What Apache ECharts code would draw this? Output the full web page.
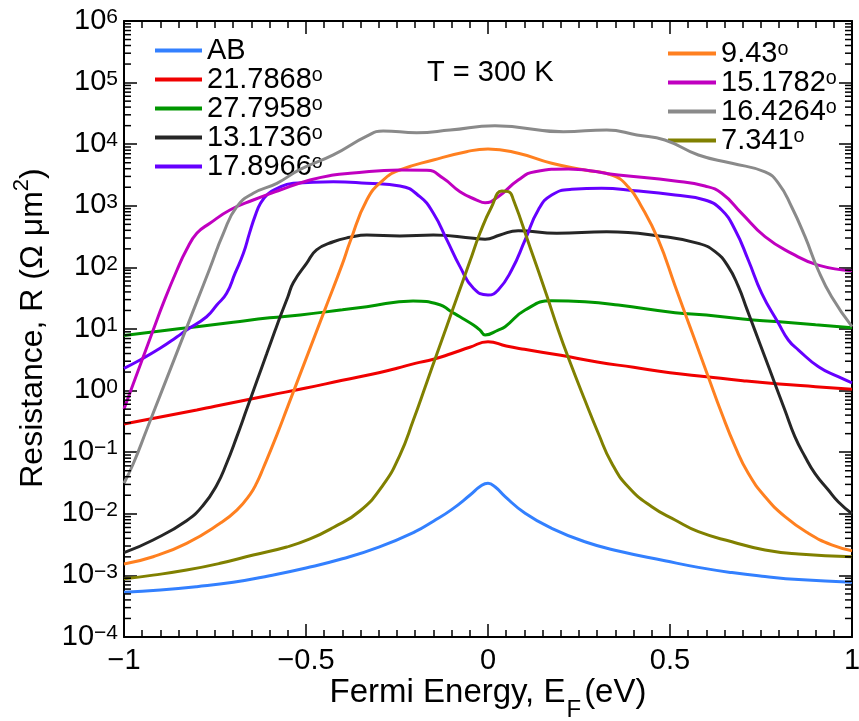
<!DOCTYPE html>
<html>
<head>
<meta charset="utf-8">
<script src="https://cdn.jsdelivr.net/npm/echarts@6/dist/echarts.min.js"></script>
<style>
  html, body { margin: 0; padding: 0; background: #fff; }
  #chart { width: 859px; height: 721px; }
</style>
</head>
<body>
<div id="chart"></div>
<script>
// Resistance vs Fermi energy for several twist angles, T = 300 K
// Each series: [Fermi energy (eV), resistance (Ω µm²)]
const serAB = [[-1,5.32e-4],[-0.9,5.79e-4],[-0.8,6.56e-4],[-0.7,7.73e-4],[-0.6,9.9e-4],[-0.5,1.32e-3],[-0.4,1.86e-3],[-0.3,2.88e-3],[-0.2,5.13e-3],[-0.15,7.59e-3],[-0.1,1.17e-2],[-0.05,2.0e-2],[-0.02,2.82e-2],[0,3.13e-2],[0.02,2.72e-2],[0.047,1.9e-2],[0.102,1.02e-2],[0.175,5.82e-3],[0.266,3.52e-3],[0.358,2.49e-3],[0.486,1.73e-3],[0.578,1.35e-3],[0.67,1.11e-3],[0.761,9.6e-4],[0.853,8.57e-4],[1,7.73e-4]];
const ser21 = [[-1,0.287],[-0.9,0.372],[-0.8,0.484],[-0.75,0.558],[-0.6,0.84],[-0.5,1.10],[-0.4,1.47],[-0.3,1.95],[-0.25,2.30],[-0.2,2.77],[-0.15,3.22],[-0.1,4.0],[-0.05,5.05],[0,6.22],[0.05,5.30],[0.1,4.68],[0.2,3.74],[0.3,2.91],[0.4,2.39],[0.5,1.95],[0.6,1.68],[0.7,1.45],[0.8,1.28],[0.9,1.16],[1,1.05]];
const ser27 = [[-1,7.84],[-0.9,9.29],[-0.8,10.9],[-0.7,12.9],[-0.6,15.2],[-0.516,16.9],[-0.4,20.5],[-0.333,23.0],[-0.206,28.5],[-0.132,24.8],[-0.104,19.6],[-0.077,15.8],[-0.04,11.6],[-0.022,9.6],[-0.008,8.0],[0.028,9.6],[0.047,10.9],[0.102,20.3],[0.175,28.8],[0.266,27.7],[0.358,24.5],[0.514,18.4],[0.6,16.9],[0.7,14.5],[0.8,13.1],[0.9,11.7],[1,10.5]];
const ser13 = [[-1,2.34e-3],[-0.92,3.76e-3],[-0.828,7.73e-3],[-0.782,1.39e-2],[-0.745,2.94e-2],[-0.718,6.61e-2],[-0.69,0.179],[-0.663,0.496],[-0.635,1.43],[-0.608,3.95],[-0.585,9.42],[-0.571,15.8],[-0.55,33.1],[-0.535,56.2],[-0.498,117],[-0.471,192],[-0.425,261],[-0.379,308],[-0.333,336],[-0.242,324],[-0.15,336],[-0.04,297],[-0.008,286],[0.033,336],[0.083,394],[0.189,358],[0.326,380],[0.486,315],[0.578,246],[0.624,180],[0.66,103],[0.688,48.6],[0.711,21.2],[0.734,9.23],[0.761,3.48],[0.789,1.26],[0.816,0.475],[0.843,0.179],[0.871,8.45e-2],[0.898,4.54e-2],[0.935,2.43e-2],[0.962,1.57e-2],[1,1.0e-2]];
const ser17 = [[-1,2.30],[-0.956,3.14],[-0.901,4.86],[-0.855,7.41],[-0.828,9.63],[-0.773,15.8],[-0.745,24.5],[-0.718,38.0],[-0.695,80],[-0.672,169],[-0.655,363],[-0.64,680],[-0.625,1100],[-0.605,1550],[-0.585,1850],[-0.535,2320],[-0.425,2460],[-0.333,2320],[-0.242,2100],[-0.187,1405],[-0.15,755],[-0.113,279],[-0.077,103],[-0.04,45.8],[0,35.6],[0.028,43.0],[0.065,90.7],[0.102,279],[0.138,855],[0.175,1496],[0.23,1853],[0.312,1923],[0.404,1758],[0.514,1496],[0.596,1242],[0.642,855],[0.679,405],[0.715,132],[0.752,38.0],[0.798,12.4],[0.825,6.63],[0.853,4.56],[0.908,2.44],[0.962,1.68],[1,1.34]];
const ser9 = [[-1,1.53e-3],[-0.92,2.01e-3],[-0.828,3.32e-3],[-0.736,7.02e-3],[-0.69,1.15e-2],[-0.654,2.05e-2],[-0.635,3.2e-2],[-0.617,5.6e-2],[-0.58,0.191],[-0.55,0.555],[-0.5,3.27],[-0.45,19.3],[-0.4,114],[-0.379,260],[-0.333,1242],[-0.288,2620],[-0.242,3810],[-0.15,5540],[-0.059,7560],[0,8360],[0.083,7120],[0.175,4900],[0.266,3810],[0.34,3162],[0.385,2040],[0.422,966],[0.468,279],[0.514,50.1],[0.546,15.1],[0.564,7.76],[0.605,1.68],[0.642,0.428],[0.679,0.123],[0.715,4.54e-2],[0.761,1.90e-2],[0.816,8.97e-3],[0.88,4.82e-3],[0.944,3.12e-3],[1,2.52e-3]];
const ser15 = [[-1,0.503],[-0.974,1.32],[-0.947,3.55],[-0.92,9.55],[-0.892,26.3],[-0.855,89],[-0.828,195],[-0.8,358],[-0.764,520],[-0.709,855],[-0.645,1242],[-0.571,1805],[-0.489,2620],[-0.425,3162],[-0.379,3370],[-0.242,3810],[-0.168,3770],[-0.123,2795],[-0.077,1694],[-0.031,1242],[-0.008,1122],[0.028,1405],[0.083,2620],[0.129,3580],[0.221,3960],[0.358,3162],[0.514,2530],[0.596,2094],[0.642,1596],[0.697,755],[0.761,315],[0.834,169],[0.907,109],[1,88.3]];
const ser16 = [[-1,3.13e-2],[-0.974,6.61e-2],[-0.938,0.229],[-0.901,0.83],[-0.865,2.90],[-0.837,7.67],[-0.801,26.8],[-0.764,97],[-0.727,358],[-0.69,966],[-0.645,1596],[-0.58,2317],[-0.516,3900],[-0.425,6700],[-0.333,13500],[-0.288,16400],[-0.196,15400],[-0.104,17000],[0.019,19960],[0.207,15950],[0.326,17000],[0.409,14100],[0.486,11700],[0.578,6680],[0.67,4900],[0.761,3540],[0.798,2317],[0.834,966],[0.871,315],[0.907,90.7],[0.944,33.4],[1,10.9]];
const ser7 = [[-1,8.83e-4],[-0.92,1.01e-3],[-0.828,1.22e-3],[-0.736,1.57e-3],[-0.645,2.14e-3],[-0.553,2.89e-3],[-0.489,3.90e-3],[-0.425,6.0e-3],[-0.352,1.11e-2],[-0.288,2.94e-2],[-0.242,9.0e-2],[-0.205,0.333],[-0.168,1.37],[-0.141,3.85],[-0.113,11.2],[-0.086,31.6],[-0.049,129],[-0.022,361],[0.01,966],[0.038,1738],[0.056,1700],[0.07,1242],[0.115,217],[0.161,35.6],[0.193,9.63],[0.221,3.38],[0.266,0.703],[0.303,0.203],[0.34,6.61e-2],[0.385,2.75e-2],[0.45,1.30e-2],[0.514,7.93e-3],[0.578,5.12e-3],[0.67,3.52e-3],[0.761,2.58e-3],[0.853,2.22e-3],[1,2.01e-3]];

const seriesNames = ['AB', '21.7868\u1D52', '27.7958\u1D52', '13.1736\u1D52', '17.8966\u1D52', '9.43\u1D52', '15.1782\u1D52', '16.4264\u1D52', '7.341\u1D52'];
const seriesColors = ['#3380ff', '#f00000', '#009600', '#262626', '#6600ff', '#ff8020', '#c000c0', '#8a8a8a', '#808000'];
const seriesData = [serAB, ser21, ser27, ser13, ser17, ser9, ser15, ser16, ser7];
const legendLeft = seriesNames.slice(0, 5);
const legendRight = seriesNames.slice(5);

const xTickValues = [-1, -0.5, 0, 0.5, 1];
const xTickLabels = ['\u22121', '\u22120.5', '0', '0.5', '1'];
const yTickExponents = ['\u22124', '\u22123', '\u22122', '\u22121', '0', '1', '2', '3', '4', '5', '6'];

// minor tick positions of the log axis (2..9 per decade)
const yMinorTicks = [];
for (let k = -4; k < 6; k++) {
  for (let m = 2; m <= 9; m++) yMinorTicks.push(m * Math.pow(10, k));
}

const FONT = '"Liberation Sans", Arial, Helvetica, sans-serif';
const chart = echarts.init(document.getElementById('chart'), null, { renderer: 'canvas' });

const lineSeries = seriesNames.map((name, i) => ({
  name: name,
  type: 'line',
  data: seriesData[i],
  xAxisIndex: 0,
  yAxisIndex: 0,
  showSymbol: false,
  symbol: 'none',
  smooth: 0.5,
  color: seriesColors[i],
  lineStyle: { width: 3, color: seriesColors[i] },
  z: 3 + i
}));

const minorTickSeries = {
  type: 'custom',
  silent: true,
  xAxisIndex: 0,
  yAxisIndex: 0,
  data: yMinorTicks.map(v => [0, v]),
  encode: { x: 0, y: 1 },
  z: 20,
  renderItem: function (params, api) {
    const v = api.value(1);
    const p = api.coord([-1, v]);
    const q = api.coord([1, v]);
    const st = { stroke: '#000', lineWidth: 1.5 };
    return {
      type: 'group',
      children: [
        { type: 'line', shape: { x1: p[0], y1: p[1], x2: p[0] + 7, y2: p[1] }, style: st },
        { type: 'line', shape: { x1: q[0] - 7, y1: q[1], x2: q[0], y2: q[1] }, style: st }
      ]
    };
  }
};

const legendText = { color: '#000', fontFamily: FONT, fontSize: 29, lineHeight: 28 };

const axisLineStyle = { show: true, onZero: false, lineStyle: { color: '#000', width: 2 } };
const xTick = { show: true, inside: true, length: 13, lineStyle: { color: '#000', width: 1.5 } };
const xMinor = { show: true, splitNumber: 10, length: 7, lineStyle: { color: '#000', width: 1.5 } };
const yTick = { show: true, inside: true, length: 13, lineStyle: { color: '#000', width: 1.5 } };

const option = {
  animation: false,
  backgroundColor: '#fff',
  grid: { left: 124, right: 7, top: 21, bottom: 84, containLabel: false, outerBoundsMode: 'none' },
  xAxis: [
    {
      type: 'value', position: 'bottom', min: -1, max: 1, interval: 0.5,
      axisLine: axisLineStyle, axisTick: xTick, minorTick: xMinor,
      splitLine: { show: false }, minorSplitLine: { show: false },
      axisLabel: {
        margin: 9, color: '#000', fontSize: 29, fontFamily: FONT,
        formatter: v => {
          const i = xTickValues.findIndex(t => Math.abs(t - v) < 1e-9);
          return i >= 0 ? xTickLabels[i] : '';
        }
      },
      name: '{t|Fermi Energy, E}{sub|F}{t|(eV)}',
      nameLocation: 'middle',
      nameGap: 39,
      nameMoveOverlap: false,
      nameTextStyle: {
        color: '#000', fontFamily: FONT,
        rich: {
          t: { fontSize: 33, lineHeight: 28, verticalAlign: 'top', fontFamily: FONT, color: '#000' },
          sub: { fontSize: 24, lineHeight: 20, padding: [22, 3, 0, 1], verticalAlign: 'top', fontFamily: FONT, color: '#000' }
        }
      }
    },
    {
      type: 'value', position: 'top', min: -1, max: 1, interval: 0.5,
      axisLine: axisLineStyle, axisTick: xTick, minorTick: xMinor,
      splitLine: { show: false }, axisLabel: { show: false }
    }
  ],
  yAxis: [
    {
      type: 'log', logBase: 10, position: 'left', min: 1e-4, max: 1e6, splitNumber: 10,
      axisLine: axisLineStyle, axisTick: yTick,
      splitLine: { show: false },
      axisLabel: {
        margin: 6, color: '#000', fontFamily: FONT,
        formatter: v => {
          const k = Math.round(Math.log10(v));
          return '{b|10}{s|' + yTickExponents[k + 4] + '}';
        },
        rich: {
          b: { fontSize: 29, lineHeight: 28, verticalAlign: 'bottom', fontFamily: FONT, color: '#000' },
          s: { fontSize: 21, lineHeight: 12, verticalAlign: 'top', fontFamily: FONT, color: '#000' }
        }
      }
    },
    {
      type: 'log', logBase: 10, position: 'right', min: 1e-4, max: 1e6, splitNumber: 10,
      axisLine: axisLineStyle, axisTick: yTick,
      splitLine: { show: false }, axisLabel: { show: false }
    }
  ],
  legend: [
    {
      data: legendLeft, orient: 'vertical', left: 150, top: 31,
      itemWidth: 47, itemHeight: 4, itemGap: 0, icon: 'rect',
      itemStyle: { borderWidth: 0 },
      textStyle: legendText, selectedMode: false
    },
    {
      data: legendRight, orient: 'vertical', left: 663, top: 34,
      itemWidth: 48, itemHeight: 4, itemGap: 0, icon: 'rect',
      itemStyle: { borderWidth: 0 },
      textStyle: legendText, selectedMode: false
    }
  ],
  graphic: [
    {
      type: 'text', left: 427, top: 58,
      style: { text: 'T = 300 K', font: '29px ' + FONT, fill: '#000' }
    },
    {
      // y-axis title, rotated
      type: 'text', x: 33, y: 328, rotation: Math.PI / 2,
      style: {
        text: '{t|Resistance, R (\u03A9 \u03BCm}{sup|2}{t|)}',
        align: 'center', verticalAlign: 'middle', fill: '#000',
        rich: {
          t: { fontSize: 32, lineHeight: 36, fontFamily: FONT, fill: '#000' },
          sup: { fontSize: 22, lineHeight: 14, padding: [0, 0, 22, 0], fontFamily: FONT, fill: '#000' }
        }
      }
    }
  ],
  series: lineSeries.concat([minorTickSeries])
};

chart.setOption(option);
</script>
</body>
</html>
